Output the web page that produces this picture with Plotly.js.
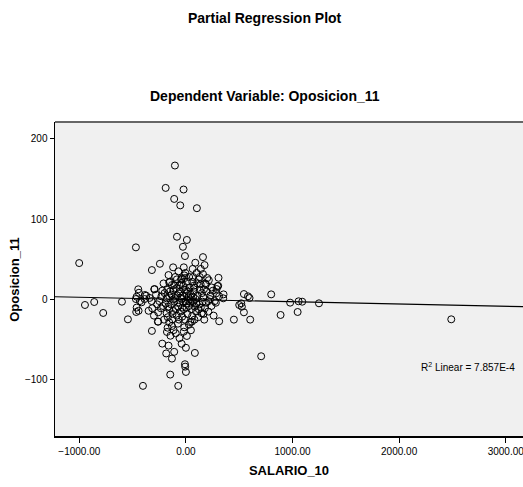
<!DOCTYPE html>
<html>
<head>
<meta charset="utf-8">
<script src="https://cdn.plot.ly/plotly-3.0.1.min.js"></script>
<style>html,body{margin:0;padding:0;background:#fff;}#chart{width:523px;height:487px;}</style>
</head>
<body>
<div id="chart"></div>
<script>
// SALARIO_10 residuals (x) and Oposicion_11 residuals (y)
const salario10 = [
 -103,-190,-22,-110,-53,103,-84,9,-28,-9,-469,-1001,-244,88,160,175,-319,63,100,66,
 160,200,-163,-12,306,303,188,81,-157,-297,-447,-441,-372,-462,-431,-462,-444,-466,-947,-860,
 -776,-600,-544,-263,-319,-178,9,-16,47,28,56,172,312,450,350,281,-222,-163,-185,-110,
 -131,84,-7,0,-147,-403,-72,284,312,544,582,597,519,525,544,800,978,1057,1091,1248,
 888,1048,603,706,2489,500,-416,-469,
 -38,-150,-131,-40,-25,72,138,169,297,288,-294,-222,-119,6,-66,253,353,-385,-157,68,
 162,-388,-322,-250,-181,-110,-40,22,91,157,225,-316,-235,-166,-72,6,84,178,-260,-181,
 -119,-35,59,147,-128,-157,-131,-172,-260,-9,
 -200,-190,-175,-140,-135,-125,-100,-95,-90,-85,-80,-75,-60,-55,-50,-45,-30,-20,-15,-10,
 0,5,10,15,25,30,35,40,45,50,60,70,75,95,110,115,120,125,130,140,
 150,165,180,190,195,210,215,230,240,260,-210,-230,-270,-280,-300,-340,-350,-205,-145,-115,
 -95,-60,-40,-20,0,-100,-70,-20,-120,-5,30,130,140,-65,-25,-155,-110,-85,-50,-5,
 20,55,100,-215,-170,-150,-120,-60,-35,-15,40,80,105,120,210,240,270
];
const oposicion11 = [
 166.5,138.7,136.7,125,117,113.5,78,74,65.5,54,64.8,45.3,44.4,45.7,52.7,42.8,36.6,38,33,28,
 31.6,26.7,30.4,26.7,27,17,18.9,14.6,21.3,12.7,12.7,8.4,4.7,3.5,-1.9,-10,-14,-15.5,-6.8,-3.1,
 -16.7,-2.7,-24.6,-27.5,-39,-40.3,-45.3,-34.5,-38.2,-31.3,-27.5,-25,-27,-25,1.5,-4,-54.8,-57.3,-67,-65,
 -73.4,-66.4,-83.4,-90,-93.3,-107.3,-107.3,7.7,4,6.8,4,1.9,-4.7,-8.9,-15.9,6.4,-3.9,-2.2,-2.7,-4.7,
 -19.2,-15.5,-25,-70.5,-24.6,-6.8,-3.5,0.6,
 26.3,22,18,20.8,17,17,19,12.7,16.7,13,13,11,11.8,7.7,7.7,11,6.4,5.6,4.3,3.5,
 2.7,0.6,-1.9,-1.9,1.5,-2.7,0.6,-1.9,0.6,-2.7,0.6,-10.9,-10.9,-8.9,-8.9,-10.2,-8.9,-10.9,-15.9,-17.1,
 -14.3,-21.3,-20.5,-17.1,-24.6,-28.3,-32.9,-35,-27.5,-80.4,
 8,-5,12,-6,6,-18,2,-12,14,-20,5,-30,-4,10,-15,25,5,-12,30,-25,
 12,-5,22,-18,3,-8,15,-28,6,-12,22,-3,10,-15,5,-22,25,-6,12,-10,
 8,-18,20,-4,10,-15,24,5,-8,-20,20,4,-6,6,-20,2,-14,-25,-45,-38,
 -42,-48,-55,-40,-60,28,35,40,40,33,28,28,38,-25,-3,-12,18,25,2,-2,
 10,-2,-5,-8,-22,10,0,18,-10,12,0,-25,20,-12,-2,15,-2
];
const fitSlope = -0.0028;          // fitted line through the origin
const r2Label = "R<sup>2</sup> Linear = 7.857E-4";
const xTickVals = [-1000, 0, 1000, 2000, 3000];
const yTickVals = [-100, 0, 100, 200];

const xRange = [-1228, 3162];
const yRange = [-169.6, 220.6];

const pts = {
  x: salario10, y: oposicion11, type: 'scatter', mode: 'markers',
  marker: {symbol: 'circle-open', size: 7, color: '#000', line: {width: 1, color: '#000'}},
  hoverinfo: 'skip', showlegend: false
};
const fit = {
  x: xRange, y: xRange.map(v => v * fitSlope), type: 'scatter', mode: 'lines',
  line: {color: '#000', width: 1.2}, hoverinfo: 'skip', showlegend: false
};

const font = 'Liberation Sans Narrow, Liberation Sans, Arial, sans-serif';
const bold = 'Liberation Sans, Arial, sans-serif';
const layout = {
  width: 523, height: 487,
  margin: {l: 55, r: 0, t: 122, b: 51},
  paper_bgcolor: '#fff', plot_bgcolor: '#f0f0f0',
  font: {family: font, color: '#000', size: 10},
  xaxis: {
    range: xRange, tickvals: xTickVals, tickformat: '.2f',
    ticks: 'outside', ticklen: 5, tickcolor: '#000', tickwidth: 1,
    ticklabeloverflow: 'allow',
    showgrid: false, zeroline: false, showline: true, linecolor: '#000', linewidth: 1.5,
    tickfont: {family: font, size: 10, color: '#000'},
    title: {text: 'SALARIO_10', font: {family: bold, size: 13, weight: 'bold', color: '#000'}, standoff: 10}
  },
  yaxis: {
    range: yRange, tickvals: yTickVals,
    ticks: 'outside', ticklen: 4, tickcolor: '#000', tickwidth: 1,
    showgrid: false, zeroline: false, showline: true, linecolor: '#000', linewidth: 1.5,
    tickfont: {family: font, size: 10, color: '#000'}
  },
  shapes: [
    {type: 'line', xref: 'paper', yref: 'paper', x0: 0, x1: 1, y0: 1, y1: 1, line: {color: '#666', width: 2}}
  ],
  annotations: [
    {text: '<b>Partial Regression Plot</b>', xref: 'paper', yref: 'paper', x: 0.449, y: 1.331,
     xanchor: 'center', yanchor: 'middle', showarrow: false,
     font: {family: bold, size: 14, color: '#000'}},
    {text: '<b>Dependent Variable: Oposicion_11</b>', xref: 'paper', yref: 'paper', x: 0.449, y: 1.083,
     xanchor: 'center', yanchor: 'middle', showarrow: false,
     font: {family: bold, size: 14, color: '#000'}},
    {text: '<b>Oposicion_11</b>', xref: 'paper', yref: 'paper', x: -0.088, y: 0.5,
     xanchor: 'center', yanchor: 'middle', textangle: -90, showarrow: false,
     font: {family: bold, size: 13, color: '#000'}},
    {text: r2Label, xref: 'x', yref: 'y', x: 2645, y: -83.4,
     xanchor: 'center', yanchor: 'middle', showarrow: false,
     font: {family: font, size: 10, color: '#000'}}
  ]
};
Plotly.newPlot('chart', [fit, pts], layout, {displayModeBar: false, staticPlot: true});
</script>
</body>
</html>
